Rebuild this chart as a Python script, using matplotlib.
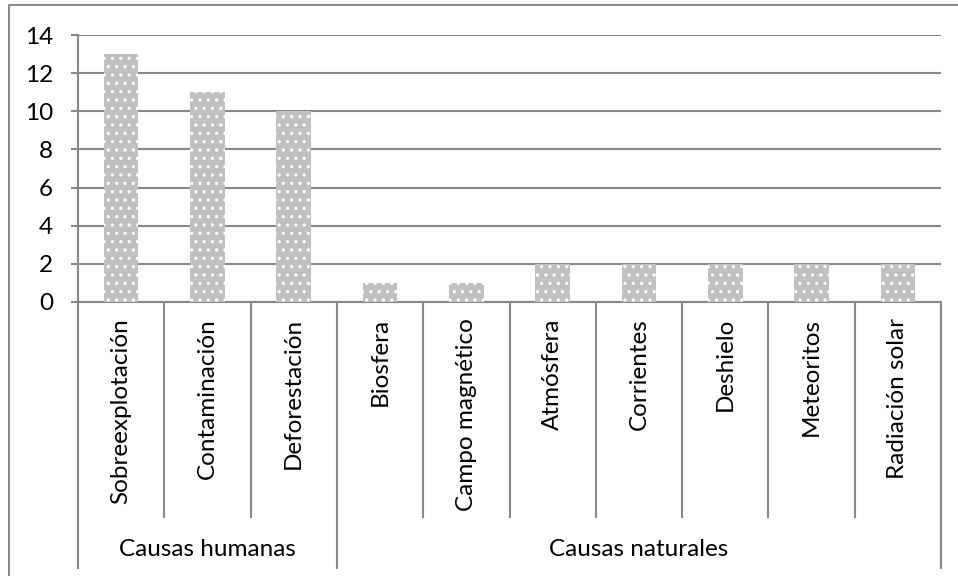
#!/usr/bin/env python3
"""Bar chart of causes (human vs natural) with grouped category axis."""
import matplotlib
matplotlib.use("Agg")
import matplotlib.pyplot as plt
import matplotlib.transforms as mtransforms
from matplotlib.patches import Rectangle

CATEGORIES = ["Sobreexplotación", "Contaminación", "Deforestación", "Biosfera",
              "Campo magnético", "Atmósfera", "Corrientes", "Deshielo",
              "Meteoritos", "Radiación solar"]
VALUES = [13, 11, 10, 1, 1, 2, 2, 2, 2, 2]
GROUPS = ["Causas humanas", "Causas naturales"]
GROUP_SIZES = [3, 7]
Y_TICKS = [0, 2, 4, 6, 8, 10, 12, 14]

GRID = "#888888"
BAR = "#c0c0c0"
FS = 17.5

plt.rcParams["font.family"] = ["Lato", "DejaVu Sans"]
plt.rcParams["hatch.color"] = "white"
plt.rcParams["hatch.linewidth"] = 1.2

W, H = 958, 576
fig = plt.figure(figsize=(W / 100, H / 100), dpi=100)
fig.patch.set_facecolor("white")

# outer chart frame (cropped on the right / bottom in the original)
fig.patches.append(Rectangle((9 / W, -0.1), 1.2, (1 - 5 / H) + 0.1, transform=fig.transFigure,
                             fill=False, edgecolor=GRID, linewidth=1.4))

ax = fig.add_axes([78 / W, 1 - 302 / H, (941 - 78) / W, (302 - 35) / H])
x = list(range(len(CATEGORIES)))
ax.bar(x, VALUES, width=0.4, color=BAR, edgecolor="white", linewidth=0, hatch="..", zorder=3)

ax.set_xlim(-0.5, len(CATEGORIES) - 0.5)
ax.set_ylim(0, 14)
ax.set_yticks(Y_TICKS)
ax.set_xticks([])
ax.grid(axis="y", color=GRID, linewidth=1.5, zorder=0)
for side in ["top", "right"]:
    ax.spines[side].set_visible(False)
for side in ["left", "bottom"]:
    ax.spines[side].set_color(GRID)
    ax.spines[side].set_linewidth(1.5)
ax.tick_params(axis="y", length=5, width=1.5, color=GRID, pad=13, labelsize=FS)

# multi-level category axis below the plot
trans = mtransforms.blended_transform_factory(ax.transData, fig.transFigure)
bounds = [-0.5]
for size in GROUP_SIZES:
    bounds.append(bounds[-1] + size)
for i in range(len(CATEGORIES) + 1):
    xs = i - 0.5
    y_end = 568 if xs in bounds else 517
    ax.plot([xs, xs], [1 - 302 / H, 1 - y_end / H], transform=trans, color=GRID,
            linewidth=1.5, clip_on=False)
for xi, name in zip(x, CATEGORIES):
    ax.text(xi, 1 - 318 / H, name, rotation=90, ha="center", va="top",
            fontsize=FS, transform=trans)
for g, name in enumerate(GROUPS):
    mid = (bounds[g] + bounds[g + 1]) / 2
    ax.text(mid, 1 - 550 / H, name, ha="center", va="center", fontsize=FS, transform=trans)

fig.savefig("out.png", dpi=100)
